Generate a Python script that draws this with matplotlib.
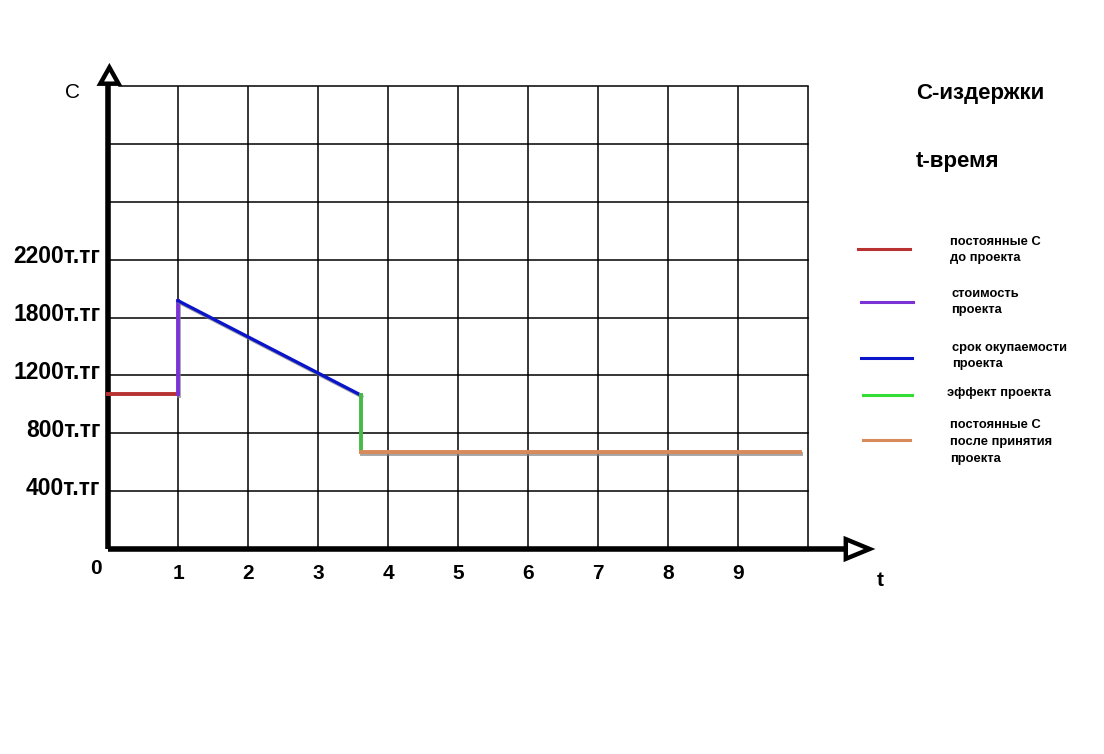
import matplotlib.pyplot as plt
import matplotlib.patheffects as pe
from matplotlib.patches import Polygon

plt.rcParams['font.family'] = ['Liberation Sans', 'DejaVu Sans']

# grid units: t in years, C in grid rows (labels are not linear)
t_ticks = [1, 2, 3, 4, 5, 6, 7, 8, 9]
c_ticks = [1, 2, 3, 4, 5]
c_labels = ['400т.тг', '800т.тг', '1200т.тг', '1800т.тг', '2200т.тг']

before_t = [0, 1]
before_c = [2.67, 2.67]
invest_t = [1, 1]
invest_c = [2.67, 4.29]
payback_t = [1, 3.61]
payback_c = [4.29, 2.66]
effect_t = [3.61, 3.61]
effect_c = [2.66, 1.67]
after_t = [3.61, 9.89]
after_c = [1.67, 1.67]

legend_names = ['постоянные С\nдо проекта', 'стоимость\nпроекта',
                'срок окупаемости\nпроекта', 'эффект проекта',
                'постоянные С\nпосле принятия\nпроекта']
colors = ['#b83232', '#7b33d6', '#0a14c8', '#33dd33', '#d98a5a']

W, H = 1104, 754
X0, Y0 = 108, 549       # pixel position of the origin
DX, DY = 70, 57.875     # pixels per grid cell

fig = plt.figure(figsize=(W / 100, H / 100), dpi=100)
ax = fig.add_axes([0, 0, 1, 1])
ax.set_xlim(-X0 / DX, (W - X0) / DX)
ax.set_ylim(-(H - Y0) / DY, Y0 / DY)
ax.axis('off')


def fx(px):
    return px / W


def fy(py):
    return 1 - py / H


# grid
for x in range(1, 11):
    ax.plot([x, x], [0, 7.98], color='black', lw=1.1, zorder=1)
for y in range(1, 9):
    ax.plot([0.15 if y == 8 else 0, 10], [y, y], color='black', lw=1.1, zorder=1)

# axes with open arrow heads
ax.plot([0, 10.54], [0, 0], color='black', lw=4, solid_capstyle='butt', zorder=3)
ax.plot([0, 0], [0, 8.03], color='black', lw=4, solid_capstyle='butt', zorder=3)
ax.add_patch(Polygon([[10.54, 0.17], [10.54, -0.17], [10.88, 0]], closed=True,
                     facecolor='white', edgecolor='black', lw=3.2, zorder=4))
ax.add_patch(Polygon([[-0.11, 8.04], [0.15, 8.04], [0.02, 8.32]], closed=True,
                     facecolor='white', edgecolor='black', lw=3.2, zorder=4))

shadow = [pe.SimpleLineShadow(offset=(0.8, -1.2), shadow_color='gray', alpha=0.7), pe.Normal()]
ax.plot(before_t, before_c, color=colors[0], lw=2.8, zorder=5)
ax.plot(invest_t, invest_c, color=colors[1], lw=2.8, zorder=5, path_effects=shadow)
ax.plot(payback_t, payback_c, color=colors[2], lw=2.4, zorder=5, path_effects=shadow)
ax.plot(effect_t, effect_c, color='#44bb44', lw=2.8, zorder=5)
ax.plot(after_t, after_c, color=colors[4], lw=2.8, zorder=5, path_effects=shadow)

# tick labels
for t in t_ticks:
    ax.text(t, -0.43, str(t), fontsize=15, fontweight='bold', ha='center', va='center')
for c, lab in zip(c_ticks, c_labels):
    ax.text(-0.11, c + 0.05, lab, fontsize=16.5, fontweight='bold', ha='right', va='center')
ax.text(-0.17, -0.33, '0', fontsize=15, fontweight='bold', ha='center', va='center')

fig.text(fx(72), fy(92), 'С', fontsize=15, ha='center', va='center')
fig.text(fx(880), fy(580), 't', fontsize=15, fontweight='bold', ha='center', va='center')
fig.text(fx(916), fy(94), 'С-издержки', fontsize=16, fontweight='bold', ha='left', va='center')
fig.text(fx(916), fy(162), 't-время', fontsize=16, fontweight='bold', ha='left', va='center')

# hand-made legend
line_y = [249, 302, 358, 395, 440]
line_x = [(858, 910), (861, 913), (861, 912), (863, 912), (863, 910)]
text_x = [950, 951, 952, 947, 950]
text_y = [250, 302, 356, 393, 442]
for name, c, ly, (lx0, lx1), tx, ty in zip(legend_names, colors, line_y, line_x, text_x, text_y):
    fig.add_artist(plt.Line2D([fx(lx0), fx(lx1)], [fy(ly), fy(ly)], color=c, lw=2.2))
    fig.text(fx(tx), fy(ty), name, fontsize=9.3, fontweight='bold', ha='left', va='center',
             linespacing=1.55)

fig.savefig('out.png', dpi=100, facecolor='white')
